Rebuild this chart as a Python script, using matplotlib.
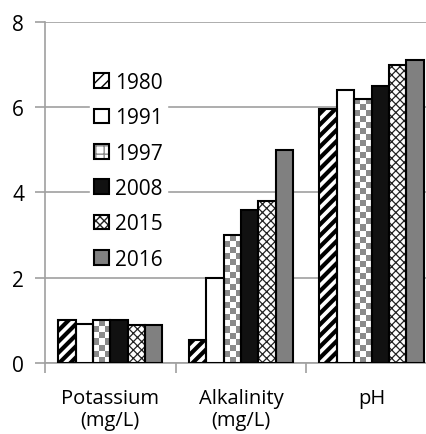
import numpy as np
import matplotlib
matplotlib.use('Agg')
import matplotlib.pyplot as plt
from matplotlib.patches import Patch
from matplotlib.legend_handler import HandlerTuple
from matplotlib.colors import ListedColormap

plt.rcParams['font.family'] = 'Open Sans'

# data
categories = ['Potassium\n(mg/L)', 'Alkalinity\n(mg/L)', 'pH']
years = ['1980', '1991', '1997', '2008', '2015', '2016']
v1980 = [1.0, 0.55, 5.95]
v1991 = [0.92, 2.0, 6.4]
v1997 = [1.0, 3.0, 6.2]
v2008 = [1.0, 3.6, 6.5]
v2015 = [0.9, 3.8, 7.0]
v2016 = [0.9, 5.0, 7.1]
series = [v1980, v1991, v1997, v2008, v2015, v2016]

# fill colour, hatch, hatch colour, hatch line width
styles = [
    ('white', '///', 'black', 3.0),
    ('white', '', 'black', 1.0),
    ('white', '++', '#8a8a8a', 2.5),   # replaced by checker texture below
    ('#111111', '', 'black', 1.0),
    ('white', 'xxxx', '#222222', 0.9),
    ('#808080', '', 'black', 1.0),
]

fig = plt.figure(figsize=(4.26, 4.35), dpi=100)
ax = fig.add_axes([0.1056, 0.1632, 0.92, 0.784])

x = np.arange(len(categories))
w = 0.133
checker_cmap = ListedColormap(['white', '#8a8a8a'])
handles = []
for i, (vals, (fc, hatch, hc, hlw)) in enumerate(zip(series, styles)):
    pos = x + (i - 2.5) * w
    plt.rcParams['hatch.linewidth'] = hlw
    if years[i] == '1997':
        bars = ax.bar(pos, vals, w, color='white', linewidth=0, zorder=3)
        for b in bars:
            x0, y0 = b.get_x(), b.get_y()
            bw, bh = b.get_width(), b.get_height()
            nx = 3
            ny = max(1, int(round(bh * 42.6 / 6.0)))
            tex = (np.add.outer(np.arange(ny), np.arange(nx)) % 2).astype(float)
            im = ax.imshow(tex, cmap=checker_cmap, extent=(x0, x0 + bw, y0, y0 + bh),
                           origin='lower', interpolation='nearest', aspect='auto', zorder=3.5)
            im.set_clip_path(b)
    else:
        ax.bar(pos, vals, w, color=fc, hatch=hatch, edgecolor=hc, linewidth=0, zorder=3)
    ax.bar(pos, vals, w, fill=False, edgecolor='black', linewidth=1.5, zorder=4)
    if years[i] == '1997':
        fill = Patch(facecolor='white', hatch='++', edgecolor='#8a8a8a', linewidth=0)
    else:
        fill = Patch(facecolor=fc, hatch=hatch, edgecolor=hc, linewidth=0)
    handles.append((fill, Patch(fill=False, edgecolor='black', linewidth=1.5)))

ax.set_xlim(-0.5, 2.5)
ax.set_ylim(0, 8)
ax.set_yticks([0, 2, 4, 6, 8])
ax.yaxis.grid(True, color='#a0a0a0', linewidth=1.2, zorder=0)
ax.set_axisbelow(True)

ax.set_xticks([-0.5, 0.5, 1.5, 2.5])
ax.set_xticklabels([])
ax.set_xticks(x, minor=True)
ax.set_xticklabels(categories, minor=True, fontsize=14.5, linespacing=1.1)
ax.tick_params(axis='x', which='minor', length=0, pad=18)
ax.tick_params(axis='x', which='major', length=7, color='#a0a0a0', width=1.2)
ax.tick_params(axis='y', length=7, color='#a0a0a0', width=1.2, labelsize=15, pad=8)

for s in ['top', 'right']:
    ax.spines[s].set_visible(False)
for s in ['left', 'bottom']:
    ax.spines[s].set_color('#a0a0a0')
    ax.spines[s].set_linewidth(1.2)

leg = ax.legend(handles, years, handler_map={tuple: HandlerTuple(ndivide=1, pad=0)},
                loc='upper left', bbox_to_anchor=(0.115, 0.866), fontsize=15,
                frameon=True, fancybox=False, framealpha=1, edgecolor='white',
                handlelength=0.7, handleheight=0.7, handletextpad=0.3,
                labelspacing=0.69, borderpad=0.2, borderaxespad=0)
leg.set_zorder(5)

fig.savefig('out.png', dpi=100)
